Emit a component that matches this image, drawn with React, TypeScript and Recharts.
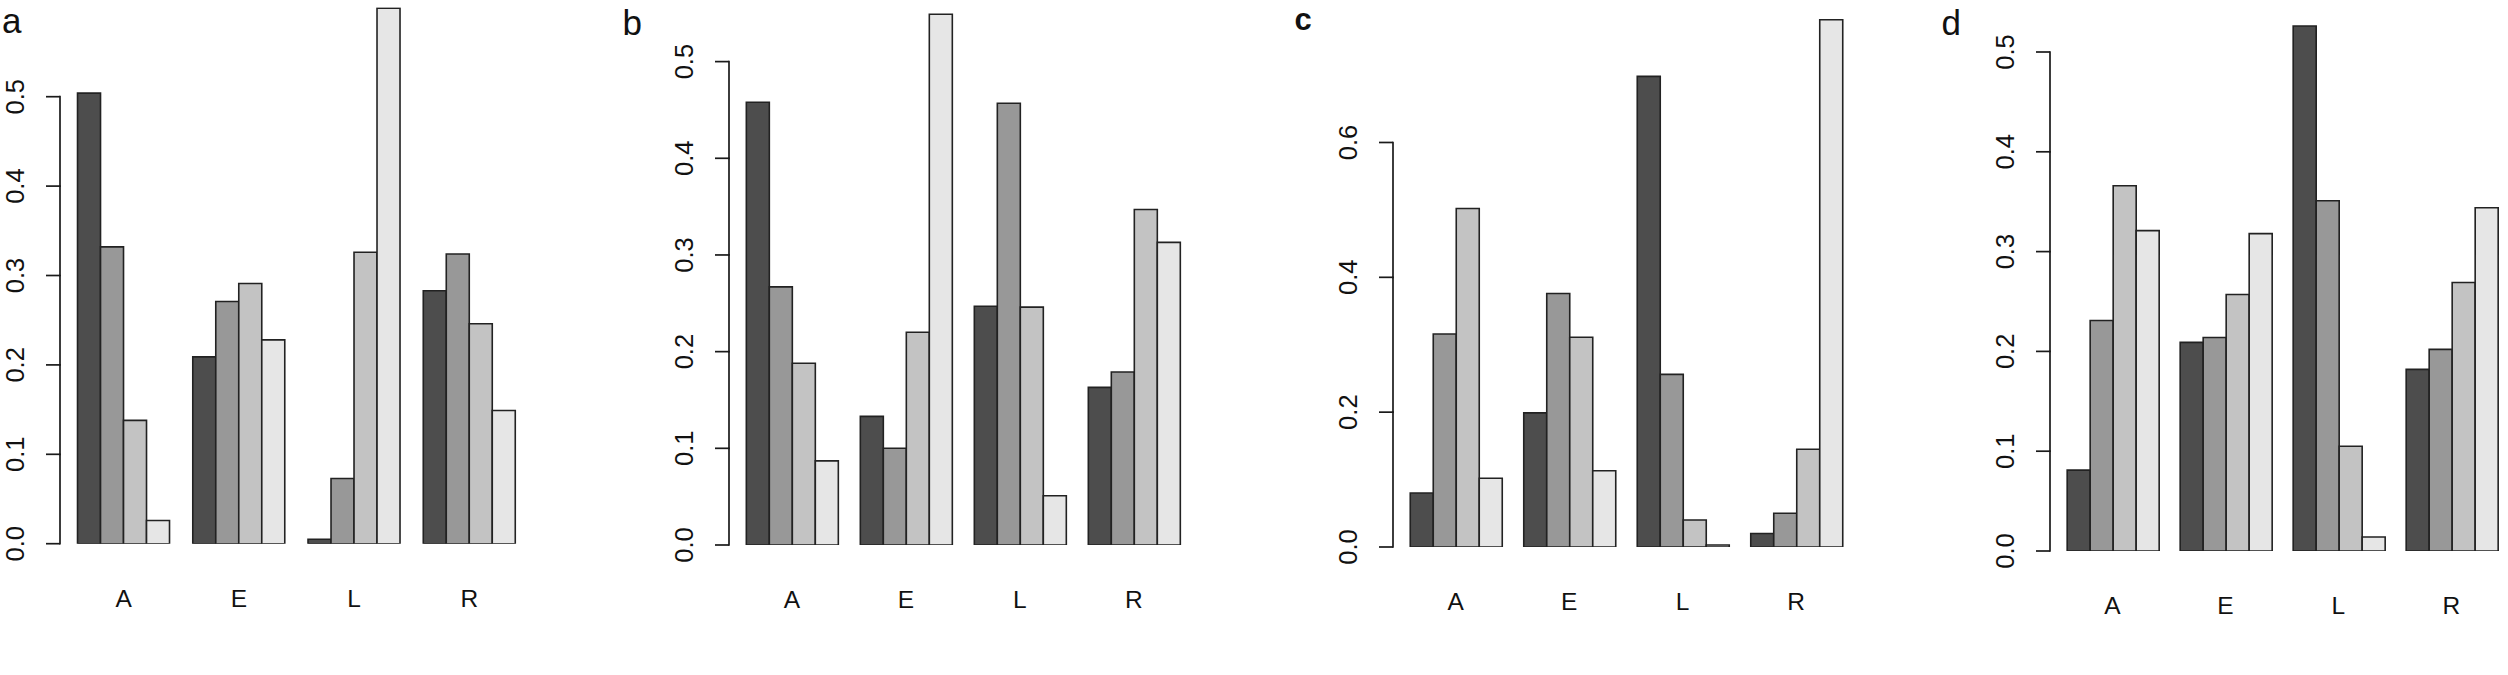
import React from 'react';
import { BarChart, Bar, XAxis, YAxis } from 'recharts';

const categories = ['A', 'E', 'L', 'R'];
const seriesKeys = ['s1', 's2', 's3', 's4'];
const seriesColors = ['#4d4d4d', '#989898', '#c3c3c3', '#e6e6e6'];

// panel a
const aSeries1 = [0.504, 0.209, 0.005, 0.283];
const aSeries2 = [0.332, 0.271, 0.073, 0.324];
const aSeries3 = [0.138, 0.291, 0.326, 0.246];
const aSeries4 = [0.026, 0.228, 0.599, 0.149];

// panel b
const bSeries1 = [0.458, 0.133, 0.247, 0.163];
const bSeries2 = [0.267, 0.1, 0.457, 0.179];
const bSeries3 = [0.188, 0.22, 0.246, 0.347];
const bSeries4 = [0.087, 0.549, 0.051, 0.313];

// panel c
const cSeries1 = [0.08, 0.199, 0.698, 0.02];
const cSeries2 = [0.316, 0.376, 0.256, 0.05];
const cSeries3 = [0.502, 0.311, 0.04, 0.145];
const cSeries4 = [0.102, 0.113, 0.003, 0.782];

// panel d
const dSeries1 = [0.081, 0.209, 0.526, 0.182];
const dSeries2 = [0.231, 0.214, 0.351, 0.202];
const dSeries3 = [0.366, 0.257, 0.105, 0.269];
const dSeries4 = [0.321, 0.318, 0.014, 0.344];

const ticksTenths = [0, 0.1, 0.2, 0.3, 0.4, 0.5];
const ticksFifths = [0, 0.2, 0.4, 0.6];
const panelLetters = ['a', 'b', 'c', 'd'];

const FONT = '"Liberation Sans", Arial, Helvetica, sans-serif';
const W = 2508;
const H = 675;

function buildRows(s1: number[], s2: number[], s3: number[], s4: number[]) {
  return categories.map((cat, i) => ({ cat, s1: s1[i], s2: s2[i], s3: s3[i], s4: s4[i] }));
}

type Cfg = {
  rows: any[];
  ticks: number[];
  dTop: number;
  firstBar: number;
  unit: number;
  baseline: number;
  pxPer: number;
};

const panels: Cfg[] = [
  { rows: buildRows(aSeries1, aSeries2, aSeries3, aSeries4), ticks: ticksTenths, dTop: 0.6, firstBar: 77.5, unit: 23.05, baseline: 543.7, pxPer: 894 },
  { rows: buildRows(bSeries1, bSeries2, bSeries3, bSeries4), ticks: ticksTenths, dTop: 0.56, firstBar: 746.5, unit: 22.8, baseline: 545, pxPer: 966.8 },
  { rows: buildRows(cSeries1, cSeries2, cSeries3, cSeries4), ticks: ticksFifths, dTop: 0.8, firstBar: 1410, unit: 22.7, baseline: 547, pxPer: 674.2 },
  { rows: buildRows(dSeries1, dSeries2, dSeries3, dSeries4), ticks: ticksTenths, dTop: 0.55, firstBar: 2067, unit: 22.6, baseline: 551, pxPer: 998 },
];

const letterStyle = [
  { x: 2, y: 33, size: 35, weight: 400 },
  { x: 622.5, y: 35, size: 35, weight: 400 },
  { x: 1294.5, y: 29.5, size: 31, weight: 700 },
  { x: 1941.5, y: 35, size: 35, weight: 400 },
];

function Panel({ cfg }: { cfg: Cfg }) {
  const { rows, ticks, dTop, firstBar, unit, baseline, pxPer } = cfg;
  const yW = 60;
  const axisX = firstBar - 0.76 * unit;
  const plotW = 20.52 * unit;
  const pad = 0.26 * unit;
  const plotTop = baseline - dTop * pxPer;
  const xH = 100;
  const rightM = 4;
  const width = yW + plotW + rightM;
  const state: { prev: number | null } = { prev: null };

  const yTick = (p: any) => {
    const { x, y, payload, index } = p;
    if (index === 0) state.prev = null;
    const prev = state.prev;
    state.prev = y;
    const lx = x - 45;
    return (
      <g>
        {prev !== null && (
          <line x1={x} x2={x} y1={prev} y2={y} stroke="#1a1a1a" strokeWidth={1.7} strokeLinecap="square" />
        )}
        <line x1={x - 14} x2={x} y1={y} y2={y} stroke="#1a1a1a" strokeWidth={1.7} />
        <text
          x={lx}
          y={y}
          transform={`rotate(-90 ${lx} ${y})`}
          textAnchor="middle"
          dominantBaseline="central"
          fontSize={25.5}
          fontFamily={FONT}
          fill="#111"
        >
          {Number(payload.value).toFixed(1)}
        </text>
      </g>
    );
  };

  const xTick = (p: any) => (
    <text x={p.x} y={p.y + 63} textAnchor="middle" fontSize={24.5} fontFamily={FONT} fill="#111">
      {p.payload.value}
    </text>
  );

  return (
    <div style={{ position: 'absolute', left: axisX - yW, top: 0 }}>
      <BarChart
        width={width}
        height={H}
        data={rows}
        margin={{ top: plotTop, right: rightM, bottom: H - baseline - xH, left: 0 }}
        barGap={0}
        barCategoryGap="10%"
      >
        <XAxis
          dataKey="cat"
          axisLine={false}
          tickLine={false}
          tickSize={0}
          tickMargin={0}
          height={xH}
          padding={{ left: pad, right: pad }}
          tick={xTick}
          interval={0}
        />
        <YAxis
          type="number"
          domain={[0, dTop]}
          ticks={ticks}
          axisLine={false}
          tickLine={false}
          tickSize={0}
          tickMargin={0}
          width={yW}
          tick={yTick}
          interval={0}
          allowDataOverflow
        />
        {seriesKeys.map((k, i) => (
          <Bar
            key={k}
            dataKey={k}
            fill={seriesColors[i]}
            stroke="#222"
            strokeWidth={1.6}
            isAnimationActive={false}
          />
        ))}
      </BarChart>
    </div>
  );
}

export default function App() {
  return (
    <div style={{ position: 'absolute', left: 0, top: 0, width: W, height: H, background: '#fff', overflow: 'hidden' }}>
      {panels.map((cfg, i) => (
        <Panel key={i} cfg={cfg} />
      ))}
      <svg width={W} height={H} style={{ position: 'absolute', left: 0, top: 0, pointerEvents: 'none' }}>
        {panelLetters.map((l, i) => (
          <text
            key={l}
            x={letterStyle[i].x}
            y={letterStyle[i].y}
            fontSize={letterStyle[i].size}
            fontWeight={letterStyle[i].weight}
            fontFamily={FONT}
            fill="#111"
          >
            {l}
          </text>
        ))}
      </svg>
    </div>
  );
}
